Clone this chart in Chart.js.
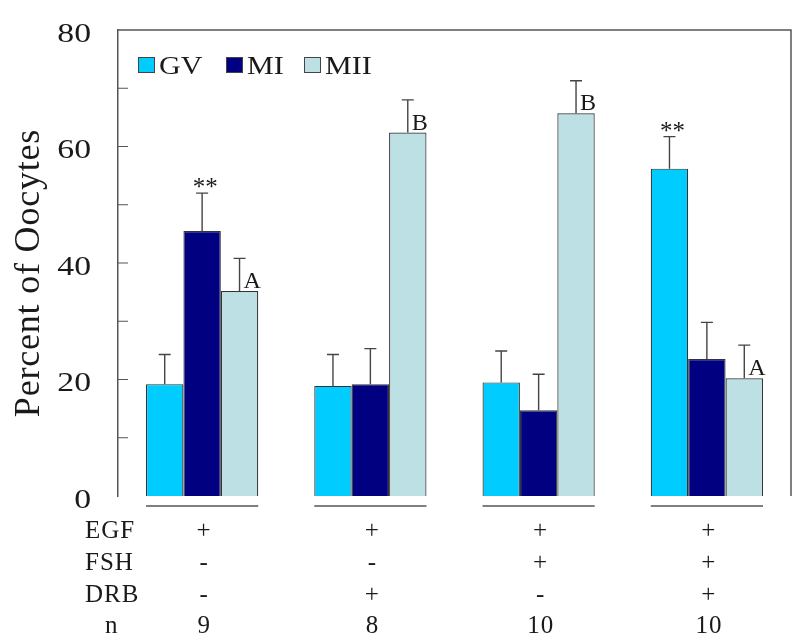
<!DOCTYPE html>
<html>
<head>
<meta charset="utf-8">
<script src="https://cdn.jsdelivr.net/npm/chart.js@4"></script>
<style>
  html, body { margin: 0; padding: 0; background: #fff; }
  #wrap { width: 800px; height: 642px; }
</style>
</head>
<body>
<div id="wrap"><canvas id="chart" width="800" height="642"></canvas></div>
<script>
// groups (treatment combinations)
const groups = ['g1', 'g2', 'g3', 'g4'];

// mean percent of oocytes per stage
const gvValues = [19.2, 18.9, 19.5, 56.2];
const miValues = [45.5, 19.2, 14.7, 23.5];
const miiValues = [35.2, 62.4, 65.7, 20.2];

// SEM (drawn upward only)
const gvErr = [5.1, 5.4, 5.4, 5.5];
const miErr = [6.5, 6.1, 6.2, 6.3];
const miiErr = [5.6, 5.6, 5.6, 5.7];

// significance marks
const gvMarks = ['', '', '', '**'];
const miMarks = ['**', '', '', ''];
const miiMarks = ['A', 'B', 'B', 'A'];

// y ticks
const yTicks = [0, 20, 40, 60, 80];

// treatment table under the chart
const rowLabels = ['EGF', 'FSH', 'DRB', 'n'];
const egfRow = ['+', '+', '+', '+'];
const fshRow = ['-', '-', '+', '+'];
const drbRow = ['-', '+', '-', '+'];
const nRow = ['9', '8', '10', '10'];

const SERIF = '"Liberation Serif", "Times New Roman", serif';
const INK = '#1a1a1a';

const errs = [gvErr, miErr, miiErr];
const marks = [gvMarks, miMarks, miiMarks];
const tableRows = [egfRow, fshRow, drbRow, nRow];

// text with a horizontal stretch; y is the bottom of the ink
function stretchText(ctx, txt, x, yBottom, size, sx, align) {
  ctx.save();
  ctx.font = size + 'px ' + SERIF;
  ctx.textBaseline = 'alphabetic';
  ctx.textAlign = 'left';
  const m = ctx.measureText(txt);
  const w = m.width * sx;
  let left = x;
  if (align === 'center') left = x - w / 2;
  if (align === 'right') left = x - w;
  ctx.translate(left, yBottom - m.actualBoundingBoxDescent);
  ctx.scale(sx, 1);
  ctx.fillStyle = INK;
  ctx.fillText(txt, 0, 0);
  ctx.restore();
}

const decorPlugin = {
  id: 'decor',
  afterDatasetsDraw(chart) {
    const ctx = chart.ctx;
    const area = chart.chartArea;
    const yScale = chart.scales.y;
    const xScale = chart.scales.x;
    ctx.save();

    // frame top and right
    ctx.strokeStyle = '#555';
    ctx.lineWidth = 1.5;
    ctx.beginPath();
    ctx.moveTo(area.left, area.top);
    ctx.lineTo(area.right, area.top);
    ctx.lineTo(area.right, area.bottom);
    ctx.stroke();

    // inward ticks every 10
    ctx.lineWidth = 1.2;
    ctx.beginPath();
    for (let v = 10; v < 80; v += 10) {
      const y = yScale.getPixelForValue(v);
      ctx.moveTo(area.left, y);
      ctx.lineTo(area.left + 10, y);
    }
    ctx.stroke();

    // tick labels
    yTicks.forEach(v => {
      const y = yScale.getPixelForValue(v);
      stretchText(ctx, String(v), 91, y + 11.5, 27, 1.25, 'right');
    });

    // error bars + marks
    chart.data.datasets.forEach((ds, di) => {
      const meta = chart.getDatasetMeta(di);
      meta.data.forEach((bar, i) => {
        const x = bar.x;
        const top = yScale.getPixelForValue(ds.data[i] + errs[di][i]);
        ctx.strokeStyle = '#444';
        ctx.lineWidth = 1.4;
        ctx.beginPath();
        ctx.moveTo(x, bar.y);
        ctx.lineTo(x, top);
        ctx.moveTo(x - 6, top);
        ctx.lineTo(x + 6, top);
        ctx.stroke();

        const m = marks[di][i];
        if (!m) return;
        if (m === '**') {
          stretchText(ctx, m, x + 3, top - 5, 25, 1.0, 'center');
        } else {
          stretchText(ctx, m, x + 4, bar.y - 3, 23, 1.05, 'left');
        }
      });
    });

    // legend inside plot
    const legX = [138, 226, 304];
    chart.data.datasets.forEach((ds, di) => {
      ctx.fillStyle = ds.backgroundColor;
      ctx.fillRect(legX[di], 57, 17, 16);
      ctx.strokeStyle = '#444';
      ctx.lineWidth = 1;
      ctx.strokeRect(legX[di] + 0.5, 57.5, 16, 15);
      stretchText(ctx, ds.label, legX[di] + 21, 73.5, 25, 1.2, 'left');
    });

    // y axis title
    ctx.save();
    ctx.translate(39, 273);
    ctx.rotate(-Math.PI / 2);
    ctx.font = '36px ' + SERIF;
    ctx.letterSpacing = '0.8px';
    ctx.textAlign = 'center';
    ctx.textBaseline = 'alphabetic';
    ctx.fillStyle = INK;
    ctx.fillText('Percent of Oocytes', 0, 0);
    ctx.restore();

    // treatment table
    const half = (xScale.getPixelForValue(1) - xScale.getPixelForValue(0)) * 0.667 / 2;
    ctx.strokeStyle = '#555';
    ctx.lineWidth = 1.5;
    groups.forEach((g, i) => {
      const cx = xScale.getPixelForValue(i);
      ctx.beginPath();
      ctx.moveTo(cx - half, 506);
      ctx.lineTo(cx + half, 506);
      ctx.stroke();
    });
    const baselines = [538, 570, 602, 633];
    ctx.font = '25px ' + SERIF;
    ctx.letterSpacing = '1px';
    ctx.fillStyle = INK;
    ctx.textBaseline = 'alphabetic';
    rowLabels.forEach((lab, r) => {
      ctx.textAlign = 'left';
      ctx.fillText(lab, r === 3 ? 105 : 85, baselines[r]);
      tableRows[r].forEach((val, i) => {
        ctx.textAlign = 'center';
        ctx.fillText(val, xScale.getPixelForValue(i) + 2, baselines[r]);
      });
    });

    ctx.restore();
  }
};

new Chart(document.getElementById('chart'), {
  type: 'bar',
  data: {
    labels: groups,
    datasets: [
      { label: 'GV', data: gvValues, backgroundColor: '#00ccff' },
      { label: 'MI', data: miValues, backgroundColor: '#000080' },
      { label: 'MII', data: miiValues, backgroundColor: '#bde0e4' }
    ]
  },
  options: {
    responsive: false,
    animation: false,
    devicePixelRatio: 1,
    layout: { padding: { top: 30, right: 9, bottom: 146, left: 0 } },
    datasets: {
      bar: {
        categoryPercentage: 0.667,
        barPercentage: 1.0,
        borderColor: '#333',
        borderWidth: 1.2
      }
    },
    scales: {
      x: { display: false },
      y: {
        min: 0,
        max: 80,
        afterFit(scale) { scale.width = 118; },
        afterBuildTicks(scale) { scale.ticks = yTicks.map(v => ({ value: v })); },
        grid: { display: false, drawTicks: false },
        border: { display: true, color: '#555', width: 1.5 },
        ticks: { display: false }
      }
    },
    plugins: {
      legend: { display: false },
      tooltip: { enabled: false }
    }
  },
  plugins: [decorPlugin]
});
</script>
</body>
</html>
